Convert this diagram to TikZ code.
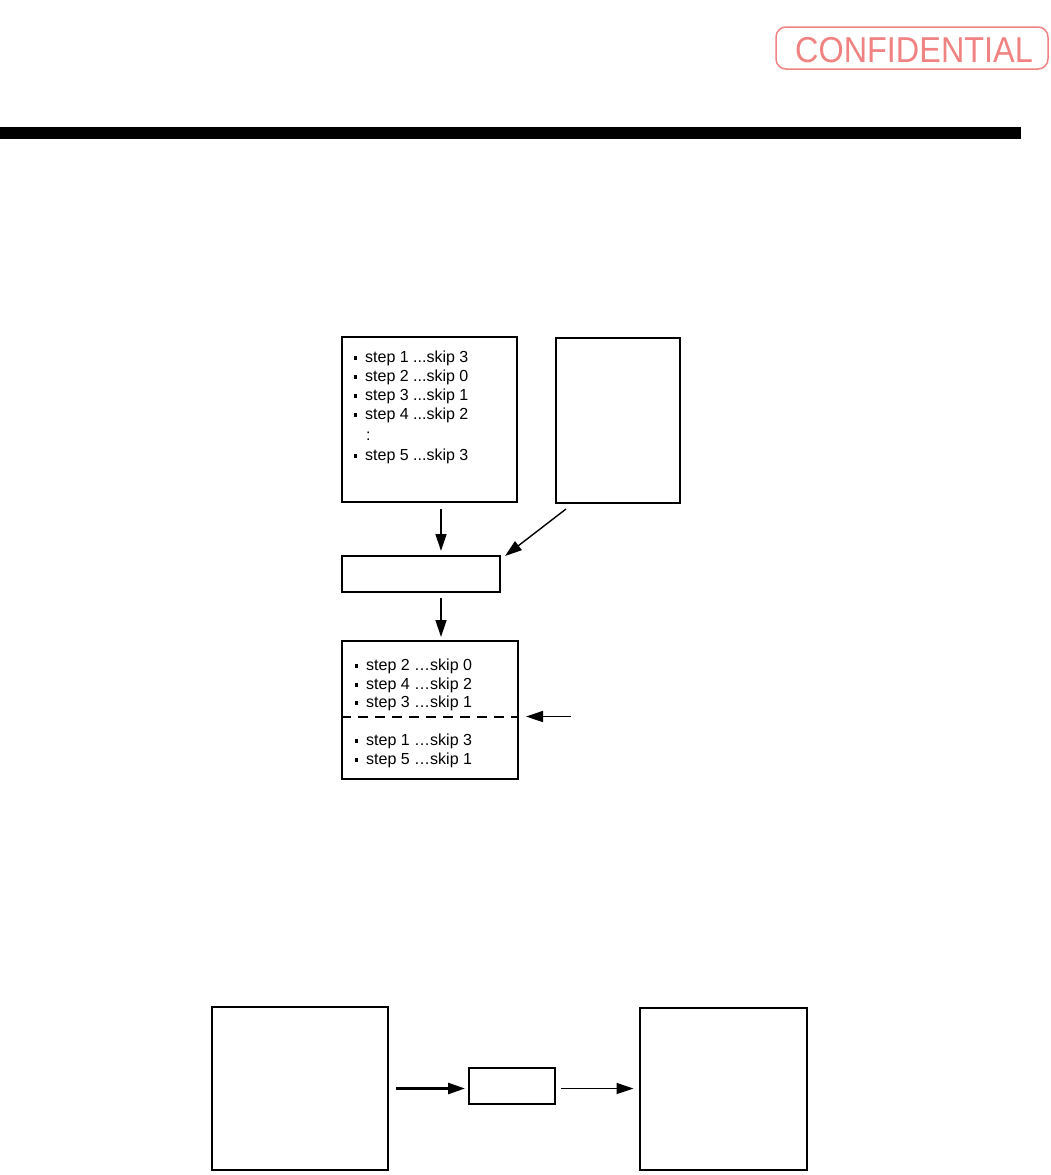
\documentclass[tikz,border=0pt]{standalone}
\usepackage{fontspec}
\setmainfont{Liberation Sans}
\usetikzlibrary{arrows.meta,calc}
\definecolor{stampcol}{RGB}{240,130,130}
\newcommand\bul{\raisebox{2.4pt}{\rule{3pt}{3.8pt}}\hspace{8pt}}
\begin{document}
\begin{tikzpicture}[x=1pt,y=-1pt,
  box/.style={draw, line width=2pt, inner sep=0pt},
  lbl/.style={anchor=base west, inner sep=0pt, font=\fontsize{16}{19}\selectfont},
  arr/.style={line width=1.4pt, -{Triangle[length=17pt,width=11pt]}},
  arrb/.style={line width=1.4pt, -{Triangle[length=17pt,width=11pt]}},
  arrthick/.style={line width=2.6pt, -{Triangle[length=17pt,width=11pt]}}]
\useasboundingbox (0,0) rectangle (1050,1175);
% stamp
\node[draw=stampcol, line width=1.5pt, rounded corners=10pt, minimum width=272pt, minimum height=42pt, inner sep=0pt] (stampbox) at (912,48) {};
\node[text=stampcol, font=\fontsize{36}{36}\selectfont, inner sep=0pt] (stamptxt) at (914,50.3) {\scalebox{0.9}[1]{CONFIDENTIAL}};
% bar
\fill (0,126.5) rectangle (1021,139);
% top boxes
\node[box, minimum width=175pt, minimum height=165pt] (lst1) at (429.5,419.5) {};
\node[box, minimum width=124pt, minimum height=165pt] (tall) at (618,420.5) {};
\node[box, minimum width=158pt, minimum height=36pt] (mid) at (421,574) {};
\node[box, minimum width=176pt, minimum height=138pt] (lst2) at (430,710) {};
% texts top list
\node[lbl] (t1) at (354,362) {\bul step 1 ...skip 3};
\node[lbl] (t2) at (354,381.5) {\bul step 2 ...skip 0};
\node[lbl] (t3) at (354,400.5) {\bul step 3 ...skip 1};
\node[lbl] (t4) at (354,419.5) {\bul step 4 ...skip 2};
\node[lbl] (t5) at (366,440.5) {:};
\node[lbl] (t6) at (354,460) {\bul step 5 ...skip 3};
% texts bottom list
\node[lbl] (u1) at (355,670.5) {\bul step 2 …skip 0};
\node[lbl] (u2) at (355,689) {\bul step 4 …skip 2};
\node[lbl] (u3) at (355,707.5) {\bul step 3 …skip 1};
\node[lbl] (u4) at (355,745) {\bul step 1 …skip 3};
\node[lbl] (u5) at (355,764) {\bul step 5 …skip 1};
% connectors
\draw[arr] ([xshift=11.5pt,yshift=-6pt]lst1.south) -- ([xshift=20pt,yshift=4pt]mid.north);
\draw[arr] ([xshift=11pt,yshift=-5pt]tall.south west) -- ([xshift=4pt,yshift=-1pt]mid.north east);
\draw[arr] ([xshift=20pt,yshift=-5pt]mid.south) -- ([xshift=11pt,yshift=3pt]lst2.north);
\coordinate (mk) at (571,716.5);
\draw[line width=2pt, dash pattern=on 10pt off 7pt] (lst2.west |- mk) -- (lst2.east |- mk);
\draw[arr] (mk) -- ($(lst2.east |- mk)+(7,0)$);
% bottom row
\node[box, minimum width=176pt, minimum height=163pt] (bl) at (300,1088.5) {};
\node[box, minimum width=86pt, minimum height=36pt] (bm) at (512,1086) {};
\node[box, minimum width=167pt, minimum height=162pt] (br) at (723,1089) {};
\draw[arrthick] ([xshift=7pt]bl.east) -- ($(bm.west |- bl.east)+(-3,0)$);
\draw[arrb] ($(bm.east |- bl.east)+(5,0)$) -- ($(br.west |- bl.east)+(-5,0)$);
\end{tikzpicture}
\end{document}
